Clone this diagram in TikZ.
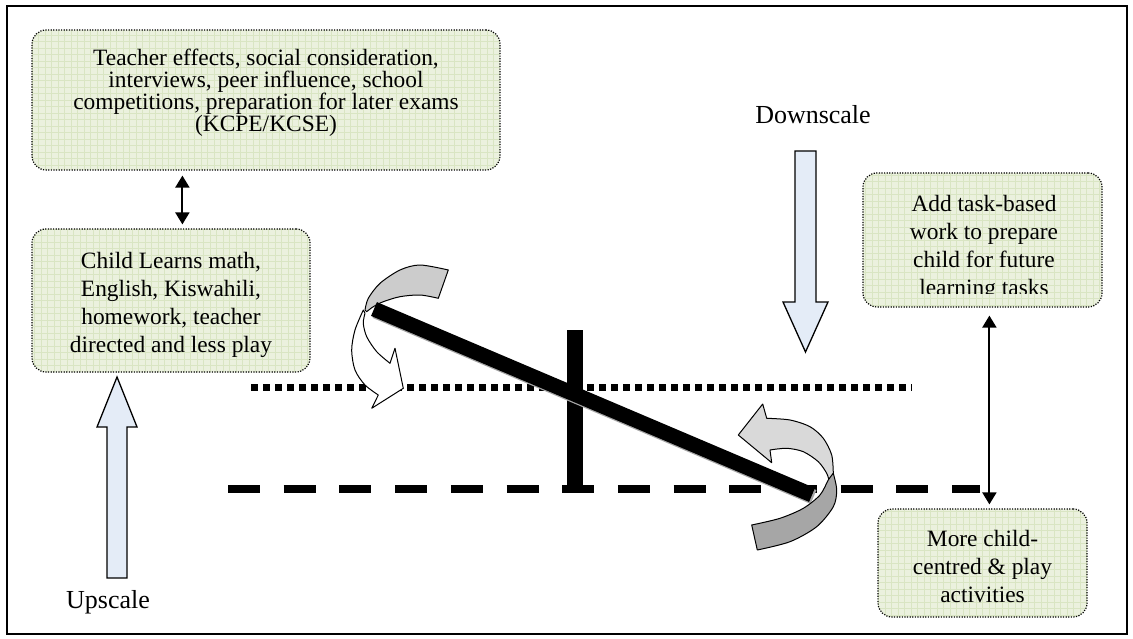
\documentclass[tikz,border=0pt]{standalone}
\usepackage{fontspec}
\setmainfont{Liberation Serif}
\usetikzlibrary{arrows.meta,calc}
\definecolor{boxfill}{HTML}{EBF1DE}
\definecolor{gridcol}{HTML}{D9E5C3}
\definecolor{arrowblue}{HTML}{E4ECF7}
\definecolor{bandgray}{HTML}{CCCCCC}
\definecolor{paleband}{HTML}{D9D9D9}
\definecolor{deepband}{HTML}{A6A6A6}
\begin{document}
\begin{tikzpicture}[x=1pt,y=-1pt,
  panel/.style={draw, line width=1.2pt, dash pattern=on 1.2pt off 1.4pt,
    rounded corners=14pt, fill=boxfill, inner sep=0pt,
    path picture={\draw[gridcol, line width=0.4pt, solid]
      (path picture bounding box.south west) grid[step=6.5pt]
      (path picture bounding box.north east);}},
  boxtext/.style={align=center, inner sep=0pt,
    font=\fontsize{23.4pt}{28pt}\selectfont},
  label/.style={inner sep=0pt, anchor=base, font=\fontsize{26pt}{30pt}\selectfont},
  link/.style={{Triangle[width=14pt,length=12pt]}-{Triangle[width=14pt,length=12pt]},
    line width=2pt},
  blockarrow/.style={draw, line width=1.3pt, fill=arrowblue, line join=miter},
  twist/.style={draw, line width=1pt, line join=round}]
\useasboundingbox (0,0) rectangle (1133,639);
% outer frame
\draw[line width=2pt] (7,6) rectangle (1127,634);

% text panels
\node[panel, minimum width=468pt, minimum height=140pt] (top) at (266,100) {};
\node[boxtext, font=\fontsize{23.4pt}{22.3pt}\selectfont] (toptext) at (266,92.8)
  {Teacher effects, social consideration,\\ interviews, peer influence, school\\
   competitions, preparation for later exams\\ (KCPE/KCSE)};
\node[panel, minimum width=278pt, minimum height=143pt] (child) at (171,300.5) {};
\node[boxtext] (childtext) at (171,304.5)
  {Child Learns math,\\ English, Kiswahili,\\ homework, teacher\\ directed and less play};
\node[panel, minimum width=239pt, minimum height=134pt] (rt) at (982.5,240) {};
\begin{scope}
  \clip (863,173) rectangle (1102,293.5);
  \node[boxtext] (rttext) at (984,248.2)
    {Add task-based\\ work to prepare\\ child for future\\ learning tasks};
\end{scope}
\node[panel, minimum width=209pt, minimum height=108pt] (rb) at (982.5,563) {};
\node[boxtext] (rbtext) at (982.5,566)
  {More child-\\ centred \& play\\ activities};

% links between panels
\draw[link] ($(top.south west)+(151,5)$) -- ($(child.north west)+(151,-4)$);
\draw[link] ($(rt.south west)+(127,8)$) -- ($(rb.north west)+(112,-4)$);

% scale arrows and their labels
\draw[blockarrow] (107,578) -- (107,427) -- (97,427) -- (117,377) -- (137,427)
  -- (127,427) -- (127,578) -- cycle;
\node[label] (up) at (108,608) {Upscale};
\draw[blockarrow] (795,151) -- (816,151) -- (816,302) -- (828,302) -- (805.5,352)
  -- (783,302) -- (795,302) -- cycle;
\node[label] (down) at (813,124) {Downscale};

% reference levels
\draw[line width=7pt, dash pattern=on 6.5pt off 5.5pt] (251,387) -- (912,387);
\draw[line width=8pt, dash pattern=on 32pt off 23.7pt] (228,489) -- (980,489);

% fulcrum
\fill (567,330) rectangle (583,489);

% left turning arrow
\draw[twist, fill=white]
  plot[smooth] coordinates {(363.3,310) (355,330) (351.7,350) (355,370) (365,385) (378.3,395)}
  -- (371.7,408.3) -- (403.3,388.3) -- (395,348.3) -- (390,363.3)
  -- plot[smooth] coordinates {(390,363.3) (376.7,351.7) (366.7,336.7) (363.3,323.3) (365,313.3)}
  -- cycle;
\draw[twist, fill=bandgray]
  plot[smooth] coordinates {(365,310) (368.3,298.3) (380,283.3) (400,270) (420,265) (448.3,270)}
  -- (438.3,298.3)
  -- plot[smooth] coordinates {(438.3,298.3) (420,295) (400,296.7) (383.3,301.7) (373.3,306.7) (366.7,311.7)}
  -- cycle;

% beam with its shadow
\draw[line width=15pt, black!35] (375.5,311) -- (813.5,497);
\draw[line width=15pt] (374,309) -- (812,495);

% right turning arrow
\draw[twist, fill=paleband]
  (770,450) -- (771.7,462.7) -- (738.3,435) -- (762.7,404) -- (766.7,418.3)
  -- plot[smooth] coordinates {(766.7,418.3) (790,420) (810,426.7) (823.3,438.3) (831.7,455) (833.3,473.3)}
  -- plot[smooth] coordinates {(829.3,481.7) (826.7,473.3) (818.3,461.7) (803.3,451.7) (786.7,448.3) (770,450)}
  -- cycle;
\draw[twist, fill=deepband]
  plot[smooth] coordinates {(833.3,473.3) (836.7,490) (833.3,506.7) (816.7,526.7) (790,541.7) (757.3,550)}
  -- (751.7,525)
  -- plot[smooth] coordinates {(751.7,525) (780,518.3) (803.3,508.3) (820,495) (828.3,480) (833.3,473.3)}
  -- cycle;
\end{tikzpicture}
\end{document}
